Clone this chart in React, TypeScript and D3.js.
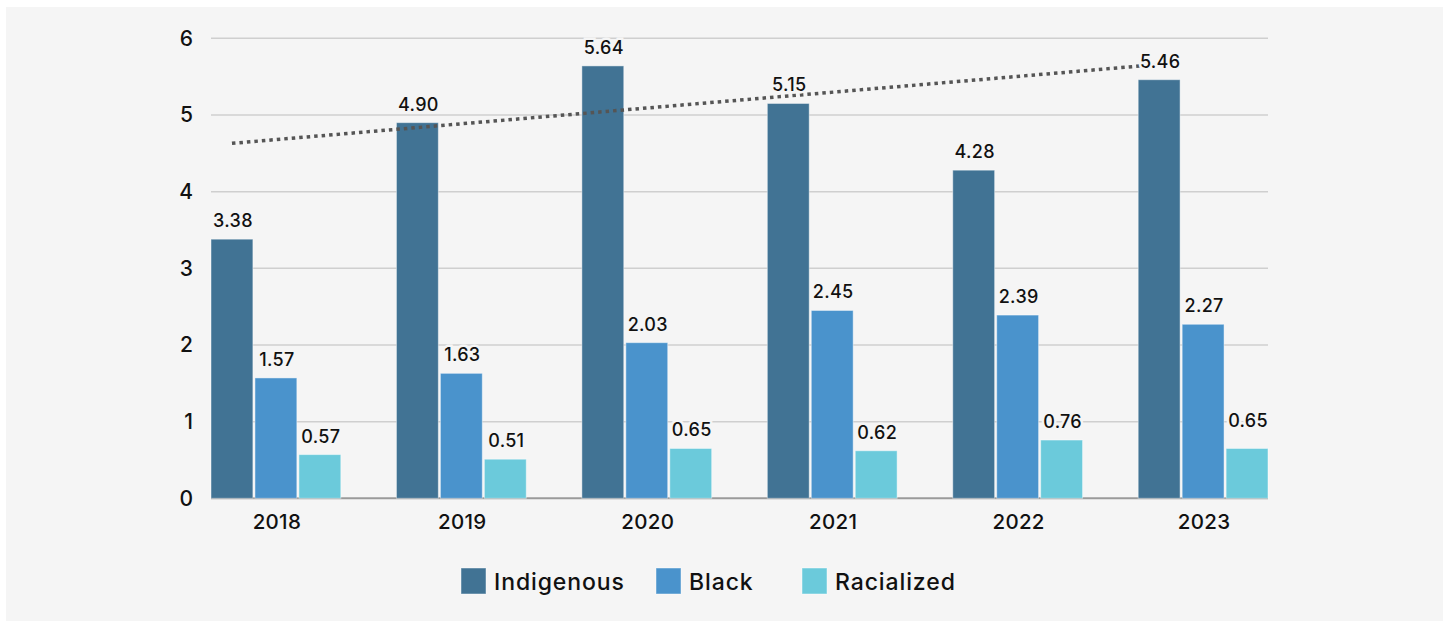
import { scaleBand, scaleLinear, line } from "d3";
import type { ReactElement } from "react";

const years = ["2018", "2019", "2020", "2021", "2022", "2023"];
const seriesNames = ["Indigenous", "Black", "Racialized"];
const indigenous = [3.38, 4.9, 5.64, 5.15, 4.28, 5.46];
const black = [1.57, 1.63, 2.03, 2.45, 2.39, 2.27];
const racialized = [0.57, 0.51, 0.65, 0.62, 0.76, 0.65];
const seriesColors = ["#417394", "#4a93cc", "#6bcadb"];
const yTicks = [0, 1, 2, 3, 4, 5, 6];
// dotted trend over the Indigenous series, read at first and last year
const trendYears = ["2018", "2023"];
const trendValues = [4.63, 5.66];

const WIDTH = 1447;
const HEIGHT = 621;
const PLOT_LEFT = 211;
const PLOT_RIGHT = 1268;
const PLOT_TOP = 38.3;
const PLOT_BOTTOM = 498.3;
const PANEL = "#f5f5f5";
const FONT = "Inter, 'Open Sans', 'Noto Sans', sans-serif";

const seriesValues = [indigenous, black, racialized];

const App = (): ReactElement => {
  const x = scaleBand<string>()
    .domain(years)
    .range([PLOT_LEFT, PLOT_RIGHT])
    .paddingInner(0.3)
    .paddingOuter(0);

  const xInner = scaleBand<string>()
    .domain(seriesNames)
    .range([0, x.bandwidth()])
    .paddingInner(0.047);

  const y = scaleLinear().domain([0, 6]).range([PLOT_BOTTOM, PLOT_TOP]);

  const trendX = (yr: string): number =>
    (x(yr) ?? 0) + (xInner("Indigenous") ?? 0) + xInner.bandwidth() / 2;

  const trendPath = line<number>()
    .x((_, i) => trendX(trendYears[i]))
    .y((d) => y(d))(trendValues);

  const legendItems = [
    { name: "Indigenous", x: 461 },
    { name: "Black", x: 656 },
    { name: "Racialized", x: 802 },
  ];

  return (
    <>
      <style>{"body{margin:0;background:#fff}"}</style>
      <svg width={WIDTH} height={HEIGHT} style={{ display: "block" }} fontFamily={FONT}>
        <rect x={6} y={7} width={1437} height={614} fill={PANEL} />

        {/* gridlines + y ticks */}
        {yTicks.map((t) => (
          <g key={t}>
            <line
              x1={PLOT_LEFT}
              x2={PLOT_RIGHT}
              y1={y(t)}
              y2={y(t)}
              stroke={t === 0 ? "#9a9a9a" : "#cfcfcf"}
              strokeWidth={t === 0 ? 2 : 1.5}
            />
            <text
              x={193}
              y={y(t)}
              textAnchor="end"
              dominantBaseline="central"
              fontSize={21}
              fontWeight={500}
              fill="#111"
            >
              {t}
            </text>
          </g>
        ))}

        {/* bars */}
        {years.map((yr, yi) => (
          <g key={yr} transform={`translate(${x(yr)},0)`}>
            {seriesNames.map((s, si) => {
              const v = seriesValues[si][yi];
              return (
                <rect
                  key={s}
                  x={xInner(s)}
                  y={y(v)}
                  width={xInner.bandwidth()}
                  height={PLOT_BOTTOM - y(v)}
                  fill={seriesColors[si]}
                  stroke="rgba(255,255,255,0.45)"
                  strokeWidth={1}
                />
              );
            })}
            <text
              x={x.bandwidth() / 2 + 1}
              y={521}
              textAnchor="middle"
              dominantBaseline="central"
              fontSize={20.5}
              fontWeight={500}
              letterSpacing={0.3}
              fill="#111"
            >
              {yr}
            </text>
          </g>
        ))}

        {/* trend line */}
        <path
          d={trendPath ?? ""}
          fill="none"
          stroke="#555"
          strokeWidth={3.5}
          strokeDasharray="3.5 4"
        />

        {/* value labels */}
        {years.map((yr, yi) =>
          seriesNames.map((s, si) => {
            const v = seriesValues[si][yi];
            const nudge = yi === years.length - 1 && si === 2 ? -9 : 0;
            return (
              <text
                key={`${yr}-${s}`}
                x={(x(yr) ?? 0) + (xInner(s) ?? 0) + xInner.bandwidth() / 2 + 1}
                y={y(v) - 12 + nudge}
                textAnchor="middle"
                fontSize={18}
                fontWeight={500}
                letterSpacing={0.3}
                fill="#111"
                stroke={PANEL}
                strokeWidth={5}
                paintOrder="stroke"
              >
                {v.toFixed(2)}
              </text>
            );
          }),
        )}

        {/* legend */}
        {legendItems.map((item, i) => (
          <g key={item.name} transform={`translate(${item.x},568)`}>
            <rect
              width={25}
              height={26}
              fill={seriesColors[i]}
              stroke="rgba(255,255,255,0.45)"
              strokeWidth={1}
            />
            <text
              x={33}
              y={13.5}
              dominantBaseline="central"
              fontSize={23}
              fontWeight={500}
              letterSpacing={0.9}
              fill="#111"
            >
              {item.name}
            </text>
          </g>
        ))}
      </svg>
    </>
  );
};

export default App;
